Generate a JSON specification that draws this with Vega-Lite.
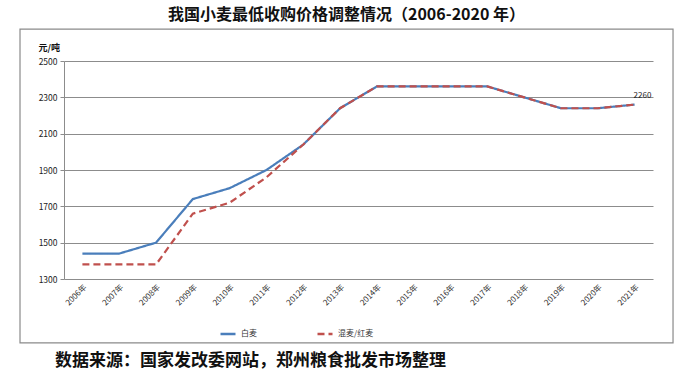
{
  "$schema": "https://vega.github.io/schema/vega-lite/v6.json",
  "width": 589,
  "height": 218,
  "autosize": {"type": "none"},
  "padding": {"left": 64, "top": 61, "right": 38, "bottom": 96},
  "background": "white",
  "config": {
    "view": {"stroke": null},
    "font": "Noto Sans CJK SC"
  },
  "title": {
    "text": "我国小麦最低收购价格调整情况（2006-2020 年）",
    "fontSize": 16,
    "fontWeight": "bold",
    "color": "#111111",
    "font": "Noto Sans CJK SC",
    "anchor": "middle",
    "frame": "group",
    "dx": -12,
    "offset": 5
  },
  "data": {
    "values": [
      {"year": 2006, "price": 1440, "type": "白麦"},
      {"year": 2007, "price": 1440, "type": "白麦"},
      {"year": 2008, "price": 1500, "type": "白麦"},
      {"year": 2009, "price": 1740, "type": "白麦"},
      {"year": 2010, "price": 1800, "type": "白麦"},
      {"year": 2011, "price": 1900, "type": "白麦"},
      {"year": 2012, "price": 2040, "type": "白麦"},
      {"year": 2013, "price": 2240, "type": "白麦"},
      {"year": 2014, "price": 2360, "type": "白麦"},
      {"year": 2015, "price": 2360, "type": "白麦"},
      {"year": 2016, "price": 2360, "type": "白麦"},
      {"year": 2017, "price": 2360, "type": "白麦"},
      {"year": 2018, "price": 2300, "type": "白麦"},
      {"year": 2019, "price": 2240, "type": "白麦"},
      {"year": 2020, "price": 2240, "type": "白麦"},
      {"year": 2021, "price": 2260, "type": "白麦"},
      {"year": 2006, "price": 1380, "type": "混麦/红麦"},
      {"year": 2007, "price": 1380, "type": "混麦/红麦"},
      {"year": 2008, "price": 1380, "type": "混麦/红麦"},
      {"year": 2009, "price": 1660, "type": "混麦/红麦"},
      {"year": 2010, "price": 1720, "type": "混麦/红麦"},
      {"year": 2011, "price": 1860, "type": "混麦/红麦"},
      {"year": 2012, "price": 2040, "type": "混麦/红麦"},
      {"year": 2013, "price": 2240, "type": "混麦/红麦"},
      {"year": 2014, "price": 2360, "type": "混麦/红麦"},
      {"year": 2015, "price": 2360, "type": "混麦/红麦"},
      {"year": 2016, "price": 2360, "type": "混麦/红麦"},
      {"year": 2017, "price": 2360, "type": "混麦/红麦"},
      {"year": 2018, "price": 2300, "type": "混麦/红麦"},
      {"year": 2019, "price": 2240, "type": "混麦/红麦"},
      {"year": 2020, "price": 2240, "type": "混麦/红麦"},
      {"year": 2021, "price": 2260, "type": "混麦/红麦"}
    ]
  },
  "layer": [
    {
      "mark": {"type": "line", "strokeWidth": 2.2},
      "encoding": {
        "x": {
          "field": "year",
          "type": "quantitative",
          "scale": {"domain": [2005.5, 2021.5], "nice": false, "zero": false},
          "axis": {"title": null, "values": [2006, 2007, 2008, 2009, 2010, 2011, 2012, 2013, 2014, 2015, 2016, 2017, 2018, 2019, 2020, 2021], "labelExpr": "datum.value + '年'", "labelAngle": -45, "labelFontSize": 8, "labelColor": "#333333", "labelPadding": 4, "labelOverlap": false, "labelFlush": false, "ticks": false, "domain": false, "grid": false}
        },
        "y": {
          "field": "price",
          "type": "quantitative",
          "scale": {"domain": [1300, 2500], "nice": false, "zero": false},
          "axis": {"title": "元/吨", "titleAngle": 0, "titleAlign": "left", "titleBaseline": "middle", "titleX": -26, "titleY": -14, "titleFontSize": 9, "titleFontWeight": "bold", "titleColor": "#111111", "values": [1300, 1500, 1700, 1900, 2100, 2300, 2500], "format": "d", "labelOverlap": false, "labelFlush": false, "labelFontSize": 8.5, "labelColor": "#222222", "labelPadding": 3, "tickSize": 4, "tickColor": "#8c8c8c", "domainColor": "#8c8c8c", "grid": true, "gridColor": "#8c8c8c", "gridWidth": 1}
        },
        "color": {
          "field": "type",
          "type": "nominal",
          "scale": {"domain": ["白麦", "混麦/红麦"], "range": ["#4A7EBB", "#C0504D"]},
          "legend": {"title": null, "orient": "none", "legendX": 155, "legendY": 264, "direction": "horizontal", "symbolType": "stroke", "symbolSize": 225, "symbolStrokeWidth": 2.5, "labelFontSize": 8, "labelColor": "#333333", "columnPadding": 55}
        },
        "strokeDash": {
          "field": "type",
          "type": "nominal",
          "scale": {"domain": ["白麦", "混麦/红麦"], "range": [[1, 0], [7, 4]]},
          "legend": {"title": null, "orient": "none", "legendX": 155, "legendY": 264, "direction": "horizontal", "symbolType": "stroke", "symbolSize": 225, "symbolStrokeWidth": 2.5, "labelFontSize": 8, "labelColor": "#333333", "columnPadding": 55}
        }
      }
    },
    {
      "data": {"values": [{}]},
      "mark": {"type": "rect", "fill": null, "stroke": "#8a8a8a", "strokeWidth": 1.2},
      "encoding": {
        "x": {"datum": 2004.305, "type": "quantitative", "scale": {"domain": [2005.5, 2021.5], "nice": false, "zero": false},
          "axis": {"title": null, "values": [2006, 2007, 2008, 2009, 2010, 2011, 2012, 2013, 2014, 2015, 2016, 2017, 2018, 2019, 2020, 2021], "labelExpr": "datum.value + '年'", "labelAngle": -45, "labelFontSize": 8, "labelColor": "#333333", "labelPadding": 4, "labelOverlap": false, "labelFlush": false, "ticks": false, "domain": false, "grid": false}},
        "x2": {"datum": 2022.044},
        "y": {"datum": 2676, "type": "quantitative", "scale": {"domain": [1300, 2500], "nice": false, "zero": false},
          "axis": {"title": "元/吨", "titleAngle": 0, "titleAlign": "left", "titleBaseline": "middle", "titleX": -26, "titleY": -14, "titleFontSize": 9, "titleFontWeight": "bold", "titleColor": "#111111", "values": [1300, 1500, 1700, 1900, 2100, 2300, 2500], "format": "d", "labelOverlap": false, "labelFlush": false, "labelFontSize": 8.5, "labelColor": "#222222", "labelPadding": 3, "tickSize": 4, "tickColor": "#8c8c8c", "domainColor": "#8c8c8c", "grid": true, "gridColor": "#8c8c8c", "gridWidth": 1}},
        "y2": {"datum": 948}
      }
    },
    {
      "transform": [{"filter": "datum.year == 2021 && datum.type == '白麦'"}],
      "mark": {"type": "text", "align": "left", "baseline": "bottom", "dx": -1, "dy": -5, "fontSize": 8, "color": "#222222"},
      "encoding": {
        "x": {"field": "year", "type": "quantitative", "scale": {"domain": [2005.5, 2021.5], "nice": false, "zero": false},
          "axis": {"title": null, "values": [2006, 2007, 2008, 2009, 2010, 2011, 2012, 2013, 2014, 2015, 2016, 2017, 2018, 2019, 2020, 2021], "labelExpr": "datum.value + '年'", "labelAngle": -45, "labelFontSize": 8, "labelColor": "#333333", "labelPadding": 4, "labelOverlap": false, "labelFlush": false, "ticks": false, "domain": false, "grid": false}},
        "y": {"field": "price", "type": "quantitative", "scale": {"domain": [1300, 2500], "nice": false, "zero": false},
          "axis": {"title": "元/吨", "titleAngle": 0, "titleAlign": "left", "titleBaseline": "middle", "titleX": -26, "titleY": -14, "titleFontSize": 9, "titleFontWeight": "bold", "titleColor": "#111111", "values": [1300, 1500, 1700, 1900, 2100, 2300, 2500], "format": "d", "labelOverlap": false, "labelFlush": false, "labelFontSize": 8.5, "labelColor": "#222222", "labelPadding": 3, "tickSize": 4, "tickColor": "#8c8c8c", "domainColor": "#8c8c8c", "grid": true, "gridColor": "#8c8c8c", "gridWidth": 1}},
        "text": {"field": "price", "type": "quantitative"}
      }
    },
    {
      "data": {"values": [{}]},
      "mark": {"type": "text", "align": "left", "baseline": "middle", "fontSize": 17, "fontWeight": "bold", "color": "#111111", "text": "数据来源：国家发改委网站，郑州粮食批发市场整理"},
      "encoding": {
        "x": {"datum": 2005.256, "type": "quantitative", "scale": {"domain": [2005.5, 2021.5], "nice": false, "zero": false},
          "axis": {"title": null, "values": [2006, 2007, 2008, 2009, 2010, 2011, 2012, 2013, 2014, 2015, 2016, 2017, 2018, 2019, 2020, 2021], "labelExpr": "datum.value + '年'", "labelAngle": -45, "labelFontSize": 8, "labelColor": "#333333", "labelPadding": 4, "labelOverlap": false, "labelFlush": false, "ticks": false, "domain": false, "grid": false}},
        "y": {"datum": 849, "type": "quantitative", "scale": {"domain": [1300, 2500], "nice": false, "zero": false},
          "axis": {"title": "元/吨", "titleAngle": 0, "titleAlign": "left", "titleBaseline": "middle", "titleX": -26, "titleY": -14, "titleFontSize": 9, "titleFontWeight": "bold", "titleColor": "#111111", "values": [1300, 1500, 1700, 1900, 2100, 2300, 2500], "format": "d", "labelOverlap": false, "labelFlush": false, "labelFontSize": 8.5, "labelColor": "#222222", "labelPadding": 3, "tickSize": 4, "tickColor": "#8c8c8c", "domainColor": "#8c8c8c", "grid": true, "gridColor": "#8c8c8c", "gridWidth": 1}}
      }
    }
  ]
}
